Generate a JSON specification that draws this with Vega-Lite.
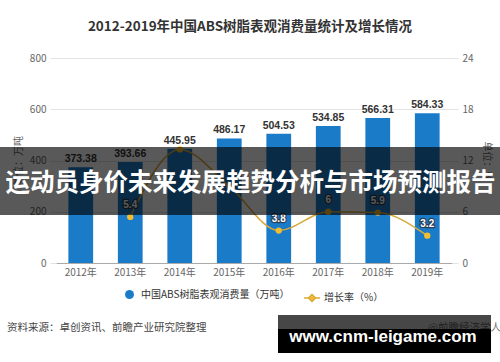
{
  "$schema": "https://vega.github.io/schema/vega-lite/v6.json",
  "width": 396,
  "height": 205,
  "autosize": {"type": "none"},
  "padding": {"left": 56, "top": 58, "right": 48, "bottom": 99},
  "background": "white",
  "title": {
    "text": "2012-2019年中国ABS树脂表观消费量统计及增长情况",
    "font": "Noto Sans CJK SC",
    "fontSize": 13.5,
    "fontWeight": "bold",
    "color": "#333333",
    "anchor": "middle",
    "offset": 20,
    "dx": -4
  },
  "datasets": {
    "abs": [
      {"year": "2012年", "consumption": 373.38, "growth": null},
      {"year": "2013年", "consumption": 393.66, "growth": 5.4},
      {"year": "2014年", "consumption": 445.95, "growth": 13.3},
      {"year": "2015年", "consumption": 486.17, "growth": 9.0},
      {"year": "2016年", "consumption": 504.53, "growth": 3.8},
      {"year": "2017年", "consumption": 534.85, "growth": 6},
      {"year": "2018年", "consumption": 566.31, "growth": 5.9},
      {"year": "2019年", "consumption": 584.33, "growth": 3.2}
    ],
    "overlay": [
      {"role": "source", "text": "资料来源：卓创资讯、前瞻产业研究院整理"},
      {"role": "banner", "text": "运动员身价未来发展趋势分析与市场预测报告"},
      {"role": "credit", "text": "@前瞻经济学人APP"},
      {"role": "watermark", "text": "www.cnm-leigame.com"}
    ]
  },
  "layer": [
    {
      "data": {"name": "abs"},
      "encoding": {
        "x": {
          "field": "year",
          "type": "nominal",
          "sort": null,
          "scale": {"paddingInner": 0.5, "paddingOuter": 0.25},
          "axis": {
            "title": null,
            "labelAngle": 0,
            "labelFont": "Noto Sans CJK SC",
            "labelFontSize": 10,
            "labelColor": "#666666",
            "labelPadding": 4,
            "ticks": false,
            "domainColor": "#aaaaaa"
          }
        }
      },
      "layer": [
        {
          "layer": [
            {
              "mark": {"type": "bar"},
              "encoding": {
                "y": {
                  "field": "consumption",
                  "type": "quantitative",
                  "scale": {"domain": [0, 800], "nice": false},
                  "axis": {
                    "title": "单位：万吨",
                    "titleFont": "Noto Sans CJK SC",
                    "titleFontSize": 10,
                    "titleFontWeight": "normal",
                    "titleColor": "#666666",
                    "titlePadding": 6,
                    "values": [0, 200, 400, 600, 800],
                    "grid": true,
                    "gridColor": "#e3e3e3",
                    "domain": false,
                    "ticks": true,
                    "tickSize": 6,
                    "tickColor": "#e3e3e3",
                    "labelPadding": 4,
                    "labelFont": "Noto Sans CJK SC",
                    "labelFontSize": 10,
                    "labelColor": "#666666"
                  }
                },
                "color": {
                  "datum": "中国ABS树脂表观消费量（万吨）",
                  "type": "nominal",
                  "scale": {"range": ["#1a7bc9"]},
                  "legend": {
                    "title": null,
                    "symbolType": "circle",
                    "symbolSize": 80,
                    "labelOffset": 6
                  }
                }
              }
            },
            {
              "mark": {
                "type": "text",
                "baseline": "alphabetic",
                "dy": -5,
                "font": "Liberation Sans",
                "fontSize": 10.5,
                "fontWeight": "bold",
                "color": "#333333"
              },
              "encoding": {
                "y": {"field": "consumption", "type": "quantitative"},
                "text": {"field": "consumption", "type": "quantitative", "format": ".2f"}
              }
            }
          ]
        },
        {
          "transform": [{"filter": "isValid(datum.growth)"}],
          "layer": [
            {
              "mark": {"type": "line", "interpolate": "monotone", "strokeWidth": 1.5},
              "encoding": {
                "y": {
                  "field": "growth",
                  "type": "quantitative",
                  "scale": {"domain": [0, 24], "nice": false},
                  "axis": {
                    "orient": "right",
                    "title": "单位：%",
                    "titleAngle": 90,
                    "titleFont": "Noto Sans CJK SC",
                    "titleFontSize": 10,
                    "titleFontWeight": "normal",
                    "titleColor": "#666666",
                    "titlePadding": 8,
                    "values": [0, 6, 12, 18, 24],
                    "grid": false,
                    "domain": false,
                    "ticks": true,
                    "tickSize": 6,
                    "tickColor": "#e3e3e3",
                    "labelPadding": 4,
                    "labelFont": "Noto Sans CJK SC",
                    "labelFontSize": 10,
                    "labelColor": "#666666"
                  }
                },
                "stroke": {
                  "datum": "增长率（%）",
                  "type": "nominal",
                  "scale": {"range": ["#d9a83a"]},
                  "legend": {
                    "title": null,
                    "symbolType": "M-1,0L-0.44,0M0.44,0L1,0M0,-0.44L0.44,0L0,0.44L-0.44,0Z",
                    "symbolSize": 256,
                    "symbolStrokeWidth": 1.5,
                    "labelOffset": 3,
                    "encode": {"symbols": {"update": {"fill": {"value": "#f2bd30"}}}}
                  }
                }
              }
            },
            {
              "mark": {"type": "point", "filled": true, "size": 40, "fill": "#f2bd30", "opacity": 1, "strokeWidth": 0},
              "encoding": {
                "y": {"field": "growth", "type": "quantitative"}
              }
            },
            {
              "transform": [{"filter": "datum.year !== '2014年' && datum.year !== '2015年'"}],
              "mark": {
                "type": "text",
                "baseline": "middle",
                "dy": -12,
                "font": "Liberation Sans",
                "fontSize": 10,
                "fontWeight": "bold",
                "fill": "#2b3f58",
                "stroke": "#2b3f58",
                "strokeWidth": 2.5
              },
              "encoding": {
                "y": {"field": "growth", "type": "quantitative"},
                "text": {"field": "growth", "type": "quantitative"}
              }
            },
            {
              "transform": [{"filter": "datum.year !== '2014年' && datum.year !== '2015年'"}],
              "mark": {
                "type": "text",
                "baseline": "middle",
                "dy": -12,
                "font": "Liberation Sans",
                "fontSize": 10,
                "fontWeight": "bold",
                "fill": "#ffffff"
              },
              "encoding": {
                "y": {"field": "growth", "type": "quantitative"},
                "text": {"field": "growth", "type": "quantitative"}
              }
            }
          ]
        }
      ],
      "resolve": {"scale": {"y": "independent"}}
    },
    {
      "data": {"name": "overlay"},
      "layer": [
        {
          "transform": [{"filter": "datum.role === 'source'"}],
          "mark": {"type": "text", "align": "left", "baseline": "middle", "font": "Noto Sans CJK SC", "fontSize": 10.5, "color": "#444444", "clip": false},
          "encoding": {
            "x": {"datum": -0.1237, "type": "quantitative", "scale": {"domain": [0, 1], "nice": false, "zero": false}, "axis": null},
            "y": {"datum": -0.317, "type": "quantitative", "scale": {"domain": [0, 1], "nice": false, "zero": false}, "axis": null},
            "text": {"field": "text"}
          }
        },
        {
          "transform": [{"filter": "datum.role === 'credit'"}],
          "mark": {"type": "text", "align": "left", "baseline": "middle", "font": "Noto Sans CJK SC", "fontSize": 10.5, "color": "#777777", "clip": false},
          "encoding": {
            "x": {"datum": 0.9394, "type": "quantitative"},
            "y": {"datum": -0.317, "type": "quantitative"},
            "text": {"field": "text"}
          }
        },
        {
          "transform": [{"filter": "datum.role === 'banner'"}],
          "mark": {"type": "rect", "fill": "#000000", "opacity": 0.65, "clip": false},
          "encoding": {
            "x": {"datum": -0.15, "type": "quantitative"},
            "x2": {"datum": 1.13},
            "y": {"datum": 0.566, "type": "quantitative"},
            "y2": {"datum": 0.234}
          }
        },
        {
          "transform": [{"filter": "datum.role === 'banner'"}],
          "mark": {"type": "text", "align": "center", "baseline": "middle", "font": "Noto Sans CJK SC", "fontSize": 24.5, "fontWeight": "bold", "color": "#ffffff", "clip": false},
          "encoding": {
            "x": {"datum": 0.4912, "type": "quantitative"},
            "y": {"datum": 0.3854, "type": "quantitative"},
            "text": {"field": "text"}
          }
        },
        {
          "transform": [{"filter": "datum.role === 'watermark'"}],
          "mark": {"type": "rect", "fill": "#000000", "opacity": 0.72, "clip": false},
          "encoding": {
            "x": {"datum": 0.5606, "type": "quantitative"},
            "x2": {"datum": 1.0985},
            "y": {"datum": -0.2537, "type": "quantitative"},
            "y2": {"datum": -0.439}
          }
        },
        {
          "transform": [{"filter": "datum.role === 'watermark'"}],
          "mark": {"type": "rect", "fill": "#000000", "opacity": 1, "clip": false},
          "encoding": {
            "x": {"datum": 0.5606, "type": "quantitative"},
            "x2": {"datum": 1.0985},
            "y": {"datum": -0.322, "type": "quantitative"},
            "y2": {"datum": -0.439}
          }
        },
        {
          "transform": [{"filter": "datum.role === 'watermark'"}],
          "mark": {"type": "text", "align": "center", "baseline": "middle", "font": "Liberation Sans", "fontSize": 17, "fontWeight": "bold", "color": "#ffffff", "clip": false},
          "encoding": {
            "x": {"datum": 0.8258, "type": "quantitative"},
            "y": {"datum": -0.361, "type": "quantitative"},
            "text": {"field": "text"}
          }
        }
      ]
    }
  ],
  "resolve": {"scale": {"x": "independent", "y": "independent"}},
  "config": {
    "view": {"stroke": null},
    "legend": {
      "orient": "bottom",
      "offset": 12,
      "labelFont": "Noto Sans CJK SC",
      "labelFontSize": 10,
      "labelColor": "#333333",
      "labelLimit": 300,
      "layout": {"bottom": {"anchor": "middle", "direction": "horizontal", "margin": 13}}
    }
  }
}
